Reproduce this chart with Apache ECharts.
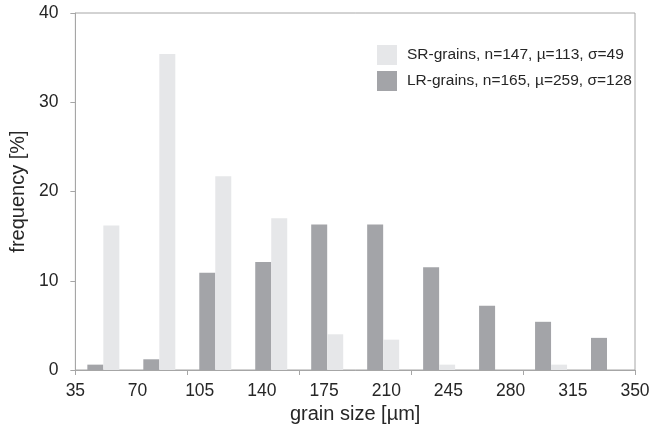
<!DOCTYPE html>
<html>
<head>
<meta charset="utf-8">
<script src="https://cdn.jsdelivr.net/npm/echarts@6/dist/echarts.min.js"></script>
<style>html,body{margin:0;padding:0;background:#fff}#c{width:653px;height:430px}</style>
</head>
<body>
<div id="c"></div>
<script>
// Bins (10 classes between ticks), values in %
const binLabels = ['35-66', '66-97', '97-129', '129-160', '160-192', '192-223', '223-255', '255-286', '286-318', '318-350'];
const lrValues = [0.6, 1.2, 10.9, 12.1, 16.3, 16.3, 11.5, 7.2, 5.4, 3.6];
const srValues = [16.2, 35.4, 21.7, 17.0, 4.0, 3.4, 0.6, 0, 0.6, 0];
const xTickMin = 35, xTickMax = 350, xTickStep = 35;
const yTickMin = 0, yTickMax = 40, yTickStep = 10;
const srName = 'SR-grains, n=147, \u00b5=113, \u03c3=49';
const lrName = 'LR-grains, n=165, \u00b5=259, \u03c3=128';

const font = 'Liberation Sans, Arial, sans-serif';
const axisGray = '#a6a6a6';
const textColor = '#262626';

const chart = echarts.init(document.getElementById('c'), null, {renderer: 'canvas'});
chart.setOption({
  animation: false,
  backgroundColor: '#fff',
  textStyle: {fontFamily: font},
  grid: {left: 67, right: 18, top: 13, bottom: 60, show: true, borderColor: axisGray, borderWidth: 1, backgroundColor: 'transparent'},
  legend: {
    orient: 'vertical', left: 377, top: 45, padding: 0,
    itemWidth: 20, itemHeight: 20, itemGap: 6,
    data: [srName, lrName],
    textStyle: {fontFamily: font, fontSize: 15.5, color: textColor, padding: [0, 0, 0, 5]},
    icon: 'rect'
  },
  xAxis: [
    {
      type: 'category', data: binLabels, position: 'bottom',
      axisLine: {show: true, lineStyle: {color: axisGray, width: 1}},
      axisTick: {show: true, length: 5, lineStyle: {color: axisGray}},
      axisLabel: {show: false}
    },
    {
      type: 'value', min: xTickMin, max: xTickMax, interval: xTickStep, position: 'bottom',
      axisLine: {show: false}, axisTick: {show: false}, splitLine: {show: false},
      axisLabel: {fontFamily: font, fontSize: 17.5, color: textColor, margin: 12},
      name: 'grain size [\u00b5m]', nameLocation: 'middle', nameGap: 28,
      nameTextStyle: {fontFamily: font, fontSize: 20, color: textColor}
    }
  ],
  yAxis: {
    type: 'value', min: yTickMin, max: yTickMax, interval: yTickStep,
    axisLine: {show: true, lineStyle: {color: axisGray, width: 1}},
    axisTick: {show: true, length: 5, inside: false, lineStyle: {color: axisGray}},
    splitLine: {show: false},
    axisLabel: {fontFamily: font, fontSize: 17.5, color: textColor, margin: 17},
    name: 'frequency [%]', nameLocation: 'middle', nameGap: 39,
    nameTextStyle: {fontFamily: font, fontSize: 20, color: textColor}
  },
  series: [
    {name: lrName, type: 'bar', xAxisIndex: 0, data: lrValues, barWidth: 16, barGap: '0%', itemStyle: {color: '#a3a4a8'}},
    {name: srName, type: 'bar', xAxisIndex: 0, data: srValues, barWidth: 16, barGap: '0%', itemStyle: {color: '#e6e7e9'}}
  ]
});
</script>
</body>
</html>
